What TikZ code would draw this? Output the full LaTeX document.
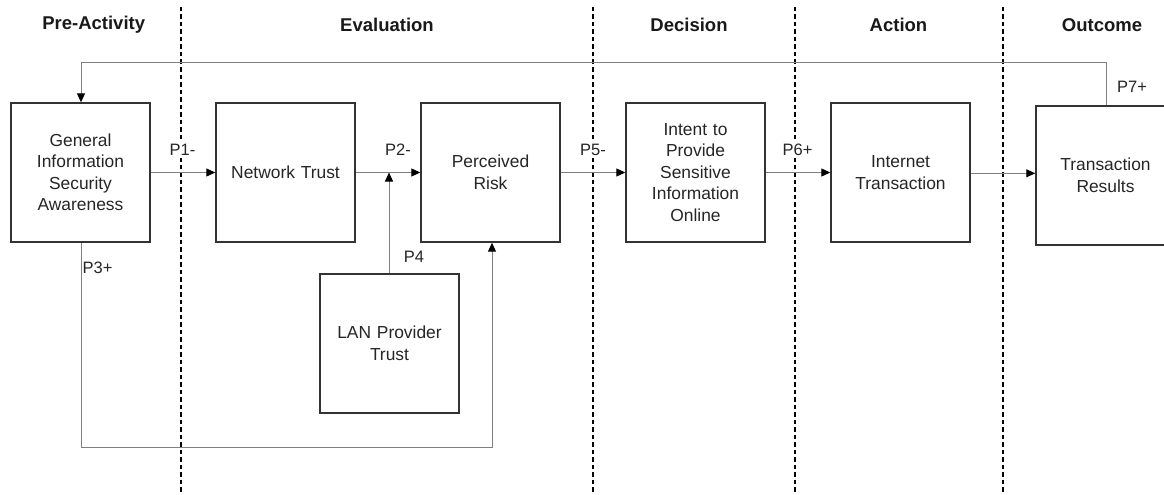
\documentclass[tikz,border=0pt]{standalone}
\usepackage{fontspec}
\setmainfont{Liberation Sans}
\usetikzlibrary{arrows.meta}
\definecolor{boxc}{HTML}{333333}
\definecolor{linec}{HTML}{808080}
\begin{document}
\begin{tikzpicture}[x=1pt,y=-1pt,
  box/.style={draw=boxc,line width=1.4pt,minimum width=139pt,minimum height=139pt,inner sep=2pt,
    align=center,text width=130pt,font=\fontsize{17.4}{21.5}\selectfont,text=black!85},
  conn/.style={draw=linec,line width=1pt,arrows={-{Triangle[length=9pt,width=8pt,color=black]}}},
  lab/.style={font=\fontsize{16.5}{19}\selectfont,text=black!85,inner sep=0pt},
  wlab/.style={lab,fill=white,inner sep=2pt},
  head/.style={font=\bfseries\fontsize{18.5}{22}\selectfont,text=black!90,inner sep=0pt},
  sep/.style={draw=black,line width=1.5pt,dash pattern=on 4.5pt off 3pt}]
\useasboundingbox (0,0) rectangle (1164,495);
\fill[white] (0,0) rectangle (1164,495);
% separators
\draw[sep] (181,7) -- (181,495);
\draw[sep] (593,7) -- (593,495);
\draw[sep] (795,7) -- (795,495);
\draw[sep] (1003,7) -- (1003,495);
% headers
\node[head] (h1) at (93.7,25) {Pre-Activity};
\node[head] (h2) at (387,25) {Evaluation};
\node[head] (h3) at (689,25) {Decision};
\node[head] (h4) at (898.5,25) {Action};
\node[head] (h5) at (1102,25) {Outcome};
% labels with white ground (cover the separators)
\node[wlab] (p1) at (182.5,150) {P1-};
\node[wlab] (p5) at (593,150) {P5-};
\node[wlab] (p6) at (797.5,150) {P6+};
% boxes
\node[box] (gisa) at (80.5,172.5) {General\\Information\\Security\\Awareness};
\node[box] (nt) at (285.5,172.5) {Network Trust};
\node[box] (pr) at (490.5,172.5) {Perceived\\Risk};
\node[box] (it) at (695.5,172.5) {Intent to\\Provide\\Sensitive\\Information\\Online};
\node[box] (itr) at (900.5,172.5) {Internet\\Transaction};
\node[box] (tr) at (1105.5,175.5) {Transaction\\Results};
\node[box] (lan) at (389.5,343.5) {LAN Provider\\Trust};
% coordinates
\coordinate (top1) at (81,62.5);
\coordinate (top2) at (1106,62.5);
\coordinate (j4) at (389,172.5);
\coordinate (b1) at (81,447);
\coordinate (b2) at (492,447);
% connectors
\draw[conn] (gisa) -- (nt);
\draw[conn] (nt) -- (pr);
\draw[conn] (pr) -- (it);
\draw[conn] (it) -- (itr);
\draw[conn] (itr.east |- 0,173.3) -- (tr.west |- 0,173.3);
\draw[conn] (lan.north -| j4) -- (j4);
\draw[conn] (gisa.south -| b1) -- (b1) -- (b2) -- (pr.south -| b2);
\draw[conn] (tr.north -| top2) -- (top2) -- (top1) -- (gisa.north -| top1);
% other labels
\node[lab] (p2) at (398,150) {P2-};
\node[lab] (p3) at (97.5,268) {P3+};
\node[lab] (p4) at (414,257) {P4};
\node[lab] (p7) at (1132,87) {P7+};
\end{tikzpicture}
\end{document}
